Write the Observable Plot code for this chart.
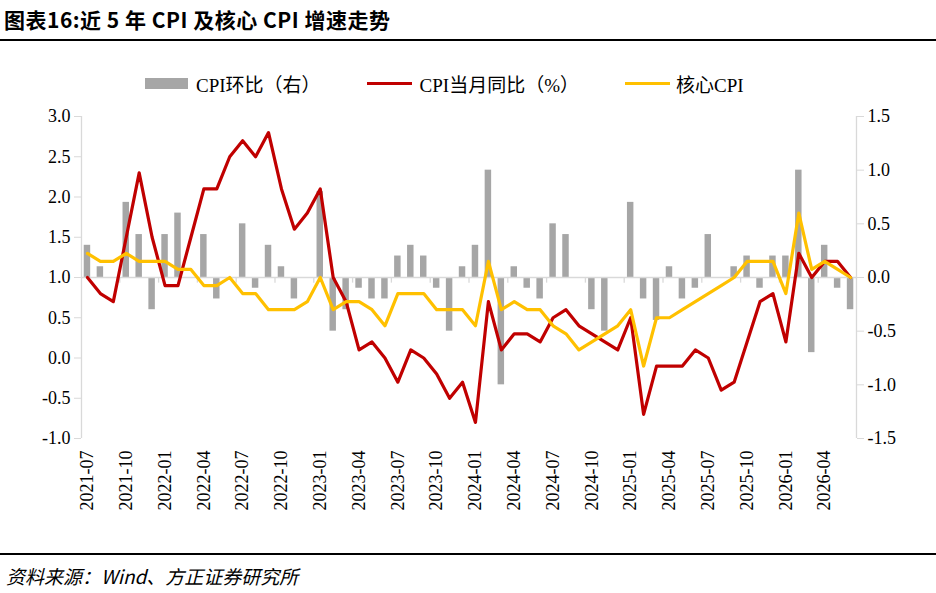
<!DOCTYPE html>
<html><head><meta charset="utf-8">
<script src="https://cdn.jsdelivr.net/npm/d3@7"></script>
<script src="https://cdn.jsdelivr.net/npm/@observablehq/plot@0.6"></script>
<style>
body{margin:0;background:#fff;width:936px;height:593px;position:relative;overflow:hidden}
.t{position:absolute;white-space:nowrap}
svg text{font-size:18px}
</style></head><body>
<div id="c"></div>
<script>
const months = d3.range(60).map(i => { const y = 2021 + Math.floor((6 + i) / 12), m = (6 + i) % 12 + 1; return `${y}-${String(m).padStart(2, "0")}`; });
const cpiYoY = [1.0,0.8,0.7,1.5,2.3,1.5,0.9,0.9,1.5,2.1,2.1,2.5,2.7,2.5,2.8,2.1,1.6,1.8,2.1,1.0,0.7,0.1,0.2,0.0,-0.3,0.1,0.0,-0.2,-0.5,-0.3,-0.8,0.7,0.1,0.3,0.3,0.2,0.5,0.6,0.4,0.3,0.2,0.1,0.5,-0.7,-0.1,-0.1,-0.1,0.1,0.0,-0.4,-0.3,0.2,0.7,0.8,0.2,1.3,1.0,1.2,1.2,1.0];
const coreCPI = [1.3,1.2,1.2,1.3,1.2,1.2,1.2,1.1,1.1,0.9,0.9,1.0,0.8,0.8,0.6,0.6,0.6,0.7,1.0,0.6,0.7,0.7,0.6,0.4,0.8,0.8,0.8,0.6,0.6,0.6,0.4,1.2,0.6,0.7,0.6,0.6,0.4,0.3,0.1,0.2,0.3,0.4,0.6,-0.1,0.5,0.5,0.6,0.7,0.8,0.9,1.0,1.2,1.2,1.2,0.8,1.8,1.1,1.2,1.1,1.0];
const cpiMoM = [0.3,0.1,0.0,0.7,0.4,-0.3,0.4,0.6,0.0,0.4,-0.2,0.0,0.5,-0.1,0.3,0.1,-0.2,0.0,0.8,-0.5,-0.3,-0.1,-0.2,-0.2,0.2,0.3,0.2,-0.1,-0.5,0.1,0.3,1.0,-1.0,0.1,-0.1,-0.2,0.5,0.4,0.0,-0.3,-0.5,0.0,0.7,-0.2,-0.4,0.1,-0.2,-0.1,0.4,0.0,0.1,0.2,-0.1,0.2,0.2,1.0,-0.7,0.3,-0.1,-0.3];
const leftTicks = [-1,-0.5,0,0.5,1,1.5,2,2.5,3];
const rightTicks = [-1.5,-1,-0.5,0,0.5,1,1.5];
const toLeft = v => 1 + v / 0.75;
const data = months.map((m, i) => ({i, m, yoy: cpiYoY[i], core: coreCPI[i], mom: cpiMoM[i]}));
const labelIdx = d3.range(0, 60, 3);
const gray = "#d9d9d9";
const font = "Liberation Serif, Times New Roman, serif";

const chart = Plot.plot({
  width: 936, height: 593,
  marginLeft: 81, marginRight: 80, marginTop: 116, marginBottom: 155,
  style: {fontFamily: font, fontSize: "18px", color: "#000", background: "#fff"},
  x: {type: "linear", domain: [-0.46, 59.46], axis: null},
  y: {domain: [-1, 3], axis: null},
  marks: [
    Plot.rect(data, {x1: d => d.i - 0.25, x2: d => d.i + 0.25, y1: 1, y2: d => toLeft(d.mom), fill: "#a6a6a6"}),
    Plot.ruleY([1], {stroke: gray, strokeWidth: 1.3}),
    Plot.ruleX(d3.range(2.5, 59, 3), {x: d => d, y1: 1, y2: 0.93, stroke: gray, strokeWidth: 1.3}),
    Plot.ruleX([-0.46], {y1: -1, y2: 3, stroke: gray, strokeWidth: 1.3}),
    Plot.ruleX([59.46], {y1: -1, y2: 3, stroke: gray, strokeWidth: 1.3}),
    Plot.axisY({ticks: leftTicks, tickFormat: d3.format(".1f"), tickSize: 7, stroke: gray, tickPadding: 4, label: null}),
    Plot.axisY({anchor: "right", ticks: rightTicks.map(toLeft), tickFormat: d => d3.format(".1f")((d - 1) * 0.75), tickSize: 7, stroke: gray, tickPadding: 4, label: null}),
    Plot.line(data, {x: "i", y: "yoy", stroke: "#c00000", strokeWidth: 3.2}),
    Plot.line(data, {x: "i", y: "core", stroke: "#ffc000", strokeWidth: 3.2}),
    Plot.text(labelIdx, {x: d => d, y: -1, text: d => months[d], rotate: -90, textAnchor: "end", dy: 12, fill: "#000"})
  ]
});
chart.querySelectorAll("text").forEach(t => { if (t.textContent.startsWith("−")) t.textContent = "-" + t.textContent.slice(1); });
document.getElementById("c").appendChild(chart);
</script>
<div class="t" style="left:4px;top:4px;font:bold 21px 'Noto Sans CJK SC';letter-spacing:0.5px">图表16:近 5 年 CPI 及核心 CPI 增速走势</div>
<div style="position:absolute;left:0;top:39px;width:936px;height:2px;background:#000"></div>
<div class="t" style="left:145px;top:70px;font:19px 'Liberation Serif','Noto Sans CJK SC';display:flex;align-items:center">
  <span style="display:inline-block;width:43px;height:11px;background:#a6a6a6;margin-right:8px"></span>CPI环比（右）
  <span style="display:inline-block;width:45px;height:3px;background:#c00000;margin:0 8px 0 46px"></span>CPI当月同比（%）
  <span style="display:inline-block;width:45px;height:3px;background:#ffc000;margin:0 6px 0 46px"></span>核心CPI
</div>
<div style="position:absolute;left:0;top:553px;width:936px;height:2px;background:#000"></div>
<div class="t" style="left:6px;top:562px;font:italic 19px 'Noto Sans CJK SC'">资料来源：Wind、方正证券研究所</div>
</body></html>
